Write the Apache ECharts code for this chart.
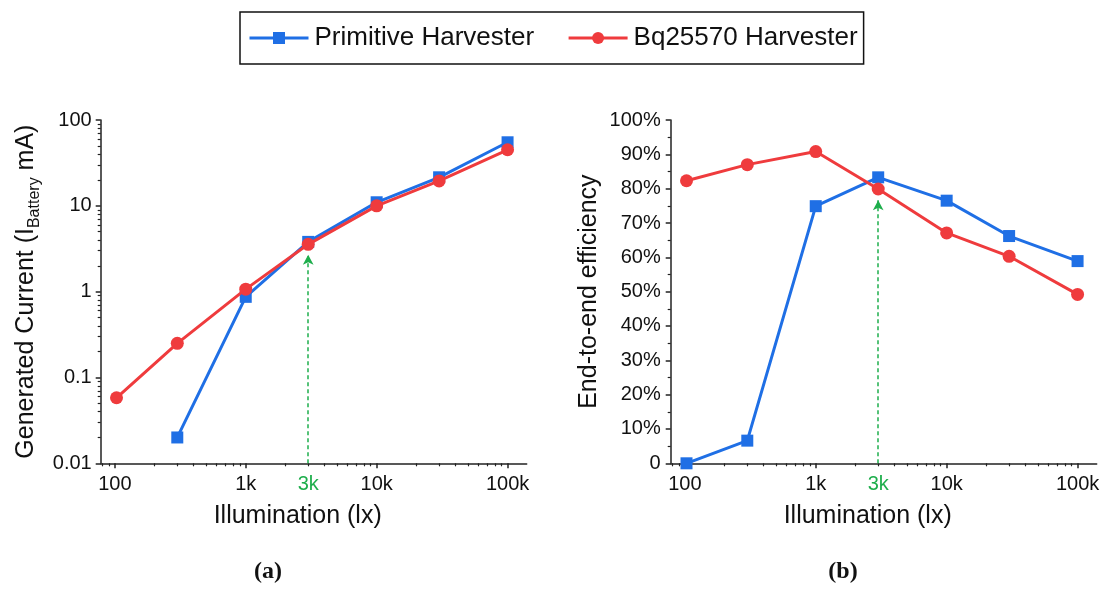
<!DOCTYPE html>
<html>
<head>
<meta charset="utf-8">
<title>Harvester comparison</title>
<script src="https://cdn.jsdelivr.net/npm/echarts@6/dist/echarts.min.js"></script>
<style>
  html, body { margin: 0; padding: 0; background: #fff; }
  #chart { width: 1108px; height: 589px; }
</style>
</head>
<body>
<div id="chart"></div>
<script>
// illumination levels (lx) shared by both panels
const luxLevels = [103, 300, 1000, 3000, 10000, 30000, 100000];

// (a) generated current, mA (primitive has no point at 100 lx)
const currentPrimitive = [null, 0.02, 0.87, 3.8, 11, 21.5, 55];
const currentBq = [0.058, 0.25, 1.07, 3.56, 10, 19.5, 45];

// (b) end-to-end efficiency, %
const effPrimitive = [0, 6.6, 74.9, 83.3, 76.5, 66.2, 58.9];
const effBq = [82.3, 87.0, 90.8, 79.9, 67.1, 60.3, 49.2];

// axis ticks
const luxMajor = [100, 1000, 10000, 100000];
const luxMinor = [80, 90, 200, 300, 400, 500, 600, 700, 800, 900,
  2000, 3000, 4000, 5000, 6000, 7000, 8000, 9000,
  20000, 30000, 40000, 50000, 60000, 70000, 80000, 90000];
const currentMajor = [0.01, 0.1, 1, 10, 100];
const currentMinor = [0.02, 0.03, 0.04, 0.05, 0.06, 0.07, 0.08, 0.09,
  0.2, 0.3, 0.4, 0.5, 0.6, 0.7, 0.8, 0.9,
  2, 3, 4, 5, 6, 7, 8, 9,
  20, 30, 40, 50, 60, 70, 80, 90];

// the 3k marker and where its arrow stops
const markLux = 3000;
const arrowTopCurrent = 2.7;
const arrowTopEff = 76.6;

const BLUE = '#1f6fe5';
const RED = '#ef3b3d';
const GREEN = '#1eae4c';
const FONT = '"Liberation Sans", Arial, sans-serif';
const SERIF = '"Liberation Serif", serif';
const INK = '#111';

function luxLabel(v) {
  if (v >= 1000) return (v / 1000) + 'k';
  return String(v);
}

function pairs(ys) {
  return luxLevels
    .map(function (x, i) { return [x, ys[i]]; })
    .filter(function (p) { return p[1] !== null; });
}

// main log axis + a twin that only carries the minor ticks and the green 3k label
function luxAxes(gridIndex) {
  const base = {
    type: 'log',
    gridIndex: gridIndex,
    position: 'bottom',
    min: 78,
    max: 140000,
    splitLine: { show: false },
  };
  return [
    Object.assign({}, base, {
      name: 'Illumination (lx)',
      nameLocation: 'middle',
      nameGap: 40,
      nameTextStyle: { fontSize: 25, fontFamily: FONT, color: INK, padding: [0, 32, 0, 0] },
      axisLine: { onZero: false, lineStyle: { color: '#222', width: 1.5 } },
      axisTick: { customValues: luxMajor, length: 5, lineStyle: { color: '#222', width: 1.5 } },
      axisLabel: {
        customValues: luxMajor,
        formatter: luxLabel,
        fontSize: 20, fontFamily: FONT, color: INK, margin: 11,
      },
    }),
    Object.assign({}, base, {
      axisLine: { show: false, onZero: false },
      axisTick: { customValues: luxMinor, length: 3, lineStyle: { color: '#222', width: 1.2 } },
      axisLabel: {
        customValues: [markLux],
        formatter: luxLabel,
        fontSize: 20, fontFamily: FONT, color: GREEN, margin: 11,
      },
    }),
  ];
}

function arrow(topValue, bottomValue) {
  return {
    silent: true,
    symbol: ['none', 'arrow'],
    symbolSize: [8, 10],
    label: { show: false },
    lineStyle: { color: GREEN, type: [4, 3], width: 1.5 },
    data: [[{ coord: [markLux, bottomValue] }, { coord: [markLux, topValue] }]],
  };
}

function lineSeries(name, color, symbol, size, data, xi, yi, extra) {
  return Object.assign({
    name: name,
    type: 'line',
    xAxisIndex: xi,
    yAxisIndex: yi,
    data: data,
    symbol: symbol,
    symbolSize: size,
    showAllSymbol: true,
    clip: false,
    z: symbol === 'circle' ? 4 : 3,
    lineStyle: { color: color, width: 3 },
    itemStyle: { color: color },
  }, extra || {});
}

function panelTitle(letter, x) {
  return {
    text: '{p|(}{b|' + letter + '}{p|)}', left: x, top: 560, textAlign: 'center', padding: 0,
    textStyle: { rich: {
      p: { fontFamily: SERIF, fontSize: 24, color: INK },
      b: { fontFamily: SERIF, fontSize: 24, fontWeight: 'bold', color: INK },
    } },
  };
}

const chart = echarts.init(document.getElementById('chart'), null, { renderer: 'canvas' });

const option = {
  animation: false,
  textStyle: { fontFamily: FONT },
  title: [panelTitle('a', 268), panelTitle('b', 843)],
  legend: {
    left: 240,
    top: 12,
    padding: [13, 6, 13, 8],
    borderColor: '#111',
    borderWidth: 1.5,
    itemWidth: 59,
    itemHeight: 15,
    itemGap: 33,
    lineStyle: { width: 3 },
    textStyle: { fontSize: 26, fontFamily: FONT, color: INK, padding: [0, 0, 0, 1] },
    data: ['Primitive Harvester', 'Bq25570 Harvester'],
  },
  grid: [
    { left: 100.7, right: 581.3, top: 120, bottom: 125.7 },
    { left: 670.7, right: 11.3, top: 120, bottom: 125.7 },
  ],
  xAxis: luxAxes(0).concat(luxAxes(1)),
  yAxis: [
    {
      type: 'log', gridIndex: 0, position: 'left', min: 0.01, max: 100,
      name: 'Generated Current (I{sub|Battery} mA)',
      nameLocation: 'middle',
      nameGap: 58,
      nameTextStyle: {
        fontSize: 25, fontFamily: FONT, color: INK, lineHeight: 34,
        rich: { sub: { fontSize: 16, fontFamily: FONT, color: INK, lineHeight: 16, verticalAlign: 'bottom' } },
      },
      splitLine: { show: false },
      axisLine: { show: true, lineStyle: { color: '#222', width: 1.5 } },
      axisTick: { show: true, customValues: currentMajor, length: 5, lineStyle: { color: '#222', width: 1.5 } },
      axisLabel: { customValues: currentMajor, formatter: function (v) { return String(v); },
        fontSize: 20, fontFamily: FONT, color: INK, margin: 9 },
    },
    {
      type: 'log', gridIndex: 0, position: 'left', min: 0.01, max: 100,
      splitLine: { show: false },
      axisLine: { show: false },
      axisTick: { show: true, customValues: currentMinor, length: 3, lineStyle: { color: '#222', width: 1.2 } },
      axisLabel: { show: false },
    },
    {
      type: 'value', gridIndex: 1, position: 'left', min: 0, max: 100, interval: 10,
      name: 'End-to-end efficiency',
      nameLocation: 'middle',
      nameGap: 69,
      nameTextStyle: { fontSize: 25, fontFamily: FONT, color: INK },
      splitLine: { show: false },
      axisLine: { show: true, lineStyle: { color: '#222', width: 1.5 } },
      axisTick: { show: true, length: 5, lineStyle: { color: '#222', width: 1.5 } },
      minorTick: { show: true, splitNumber: 2, length: 3, lineStyle: { color: '#222', width: 1.2 } },
      axisLabel: { formatter: function (v) { return v === 0 ? '0' : v + '%'; },
        fontSize: 20, fontFamily: FONT, color: INK, margin: 10 },
    },
  ],
  series: [
    lineSeries('Primitive Harvester', BLUE, 'rect', 12, pairs(currentPrimitive), 0, 0),
    lineSeries('Bq25570 Harvester', RED, 'circle', 13, pairs(currentBq), 0, 0,
      { markLine: arrow(arrowTopCurrent, 0.01) }),
    lineSeries('Primitive Harvester', BLUE, 'rect', 12, pairs(effPrimitive), 2, 2),
    lineSeries('Bq25570 Harvester', RED, 'circle', 13, pairs(effBq), 2, 2,
      { markLine: arrow(arrowTopEff, 0) }),
  ],
};

chart.setOption(option);
</script>
</body>
</html>
